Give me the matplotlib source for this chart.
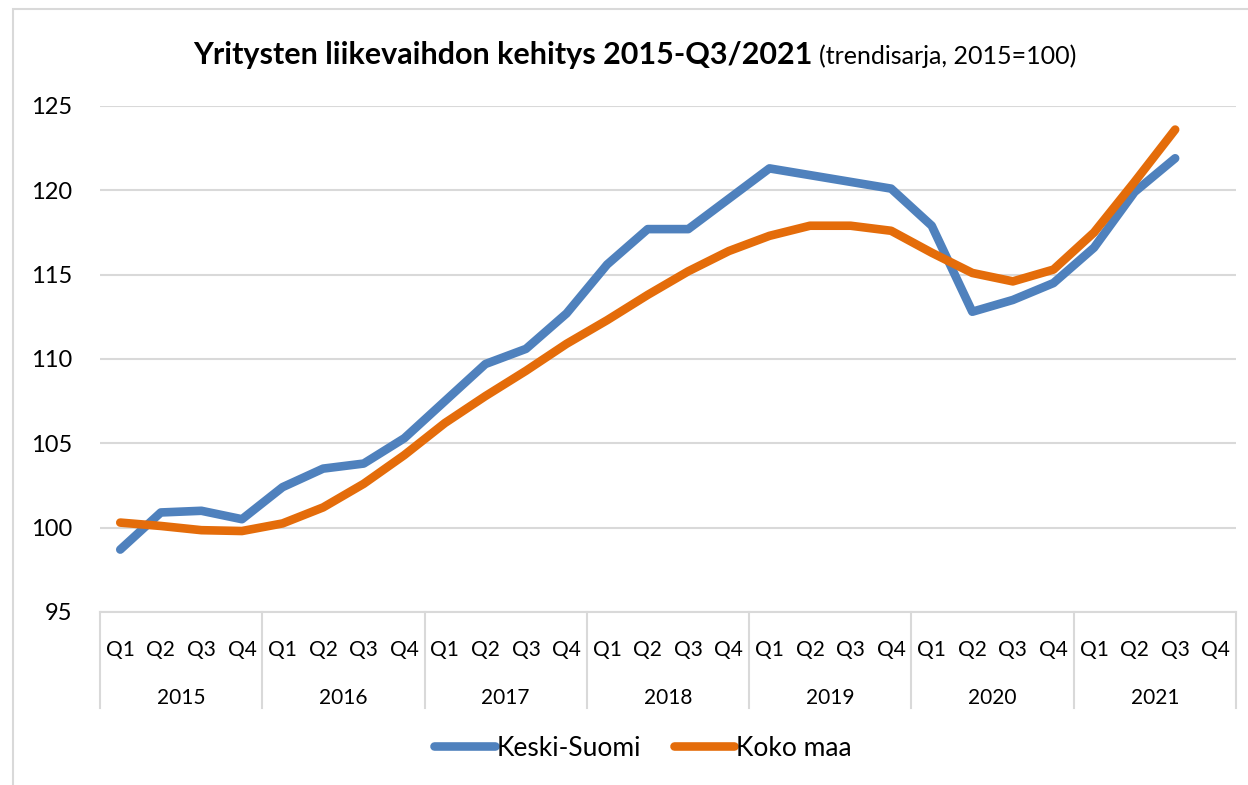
import matplotlib
matplotlib.use("Agg")
import matplotlib.pyplot as plt
from matplotlib.lines import Line2D
from matplotlib.patches import Rectangle

plt.rcParams.update({
    "font.family": ["Lato", "DejaVu Sans"],
    "font.size": 16,
})

# ── data ──────────────────────────────────────────────────
years = ["2015", "2016", "2017", "2018", "2019", "2020", "2021"]
quarters = ["Q1", "Q2", "Q3", "Q4"]

keski_suomi = [98.7, 100.9, 101.0, 100.5,
               102.4, 103.5, 103.8, 105.3,
               107.5, 109.7, 110.6, 112.7,
               115.6, 117.7, 117.7, 119.5,
               121.3, 120.9, 120.5, 120.1,
               117.9, 112.8, 113.5, 114.5,
               116.6, 119.9, 121.9]
koko_maa = [100.3, 100.1, 99.85, 99.8,
            100.25, 101.2, 102.6, 104.3,
            106.2, 107.8, 109.3, 110.9,
            112.3, 113.8, 115.2, 116.4,
            117.3, 117.9, 117.9, 117.6,
            116.3, 115.1, 114.6, 115.3,
            117.5, 120.5, 123.6]

C_BLUE = "#4F81BD"
C_ORANGE = "#E46C0A"
C_GRID = "#D9D9D9"

n = len(years) * len(quarters)
x_ks = list(range(len(keski_suomi)))
x_km = list(range(len(koko_maa)))

fig = plt.figure(figsize=(12.48, 7.85), dpi=100)
ax = fig.add_axes([0.0801, 0.2204, 0.9103, 0.6446])

ax.plot(x_ks, keski_suomi, color=C_BLUE, linewidth=6.2, solid_capstyle="round",
        solid_joinstyle="round", label="Keski-Suomi", zorder=3)
ax.plot(x_km, koko_maa, color=C_ORANGE, linewidth=6.2, solid_capstyle="round",
        solid_joinstyle="round", label="Koko maa", zorder=4)

ax.set_xlim(-0.5, n - 0.5)
ax.set_ylim(95, 125)
ax.set_yticks(range(95, 126, 5))
ax.yaxis.grid(True, color=C_GRID, linewidth=1.5)
ax.set_axisbelow(True)
for s in ["top", "right", "left"]:
    ax.spines[s].set_visible(False)
ax.spines["bottom"].set_color(C_GRID)
ax.spines["bottom"].set_linewidth(1.5)
ax.tick_params(axis="y", length=0, pad=20, labelsize=17)
ax.tick_params(axis="x", length=0)
ax.set_xticks([])

# ── two-level category axis ──────────────────────────────
trans = ax.get_xaxis_transform()
for i in range(n):
    ax.text(i, -0.075, quarters[i % 4], transform=trans, ha="center", va="center",
            fontsize=15, clip_on=False)
for j, yr in enumerate(years):
    ax.text(j * 4 + 1.5, -0.17, yr, transform=trans, ha="center", va="center",
            fontsize=15, clip_on=False)
for j in range(len(years) + 1):
    ax.add_line(Line2D([j * 4 - 0.5] * 2, [0, -0.19], transform=trans, color=C_GRID,
                       linewidth=1.5, clip_on=False))

# ── title ─────────────────────────────────────────────────
t1 = fig.text(0.155, 0.93, "Yritysten liikevaihdon kehitys 2015-Q3/2021",
              fontsize=22, fontweight="bold", va="center", ha="left")
fig.canvas.draw()
bb = t1.get_window_extent()
fig.text(bb.x1 / fig.bbox.width + 0.005, 0.928, "(trendisarja, 2015=100)",
         fontsize=18, va="center", ha="left")

# ── legend ────────────────────────────────────────────────
fig.legend(loc="center", bbox_to_anchor=(0.515, 0.047), ncol=2, frameon=False,
           fontsize=19, handlelength=2.3, handletextpad=0.05, columnspacing=1.25)

# chart border
fig.add_artist(Rectangle((13 / 1248, -0.05), 1.2, 1 - 9 / 785 + 0.05,
                         transform=fig.transFigure, fill=False,
                         edgecolor=C_GRID, linewidth=1.5))

fig.savefig("out.png", dpi=100)
